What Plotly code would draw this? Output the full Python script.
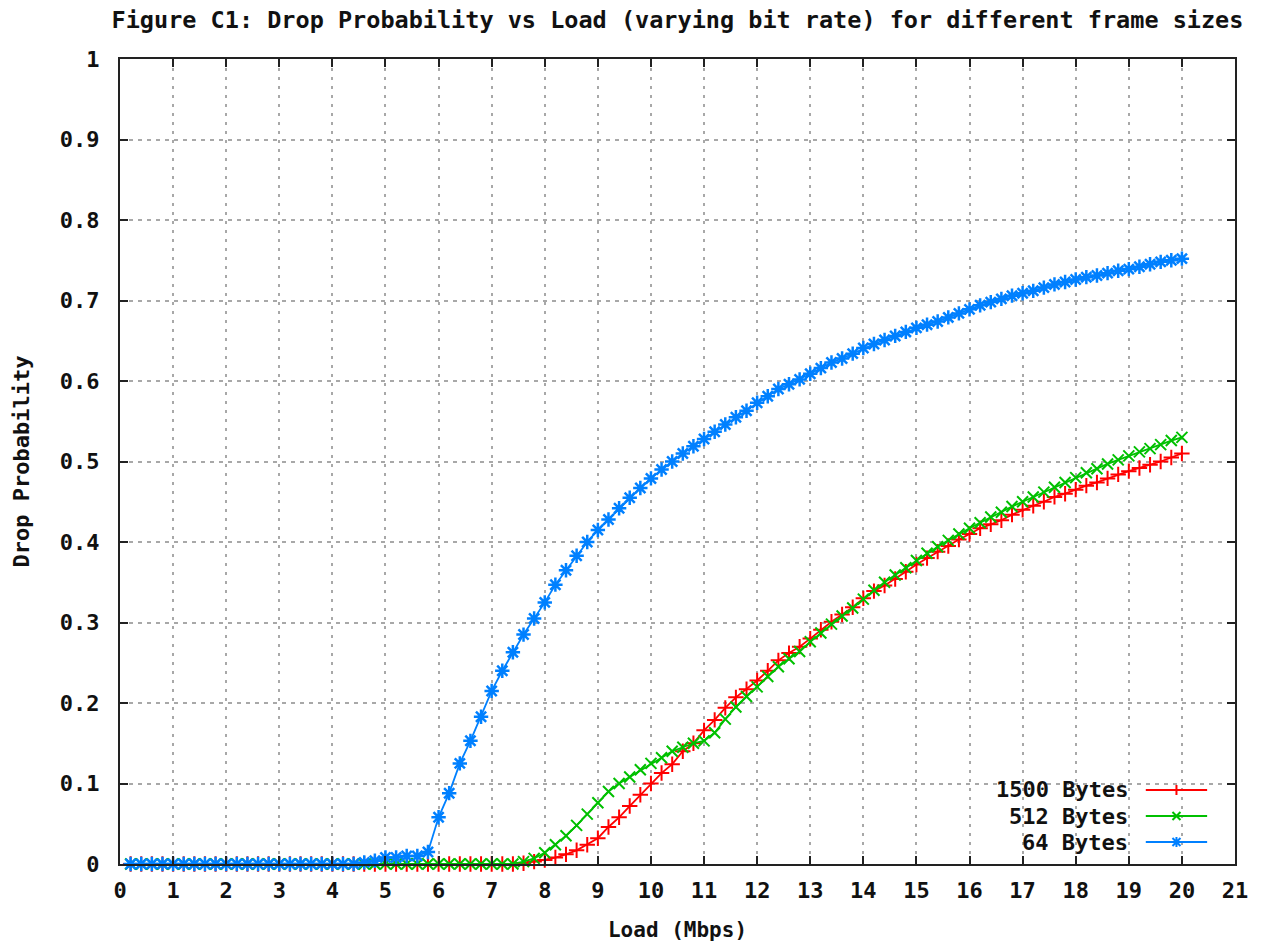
import plotly.graph_objects as go

# ---------------- data ----------------
load_mbps = [round(0.2 * i, 1) for i in range(1, 101)]  # 0.2 .. 20.0

drop_1500 = [0.0] * 37 + [
    0.001, 0.003,
    0.005, 0.008, 0.012, 0.017, 0.024, 0.032, 0.046, 0.058, 0.072, 0.086,
    0.100, 0.113, 0.124, 0.140, 0.150, 0.166, 0.179, 0.194, 0.207, 0.217,
    0.228, 0.240, 0.253, 0.262, 0.270, 0.280, 0.291, 0.301, 0.310, 0.319,
    0.330, 0.339, 0.346, 0.354, 0.363, 0.372, 0.380, 0.388, 0.395, 0.403,
    0.410, 0.417, 0.422, 0.427, 0.434, 0.440, 0.445, 0.450, 0.456, 0.460,
    0.465, 0.470, 0.474, 0.479, 0.484, 0.488, 0.492, 0.496, 0.500, 0.505,
    0.510,
]

drop_512 = [0.0] * 37 + [
    0.003, 0.007,
    0.014, 0.024, 0.035, 0.048, 0.062, 0.076, 0.090, 0.100, 0.108, 0.117,
    0.125, 0.132, 0.140, 0.145, 0.150, 0.153, 0.163, 0.180, 0.195, 0.208,
    0.220, 0.233, 0.245, 0.255, 0.264, 0.276, 0.287, 0.298, 0.308, 0.318,
    0.329, 0.340, 0.350, 0.359, 0.368, 0.377, 0.386, 0.394, 0.402, 0.410,
    0.417, 0.424, 0.431, 0.437, 0.444, 0.450, 0.456, 0.462, 0.468, 0.474,
    0.480, 0.486, 0.491, 0.497, 0.502, 0.507, 0.512, 0.516, 0.521, 0.526,
    0.530,
]

drop_64 = [0.0] * 22 + [
    0.002, 0.004, 0.008, 0.008, 0.010, 0.010, 0.015,
    0.058, 0.088, 0.125, 0.153, 0.183, 0.215, 0.240, 0.263, 0.285, 0.305,
    0.325, 0.347, 0.365, 0.383, 0.400, 0.415, 0.428, 0.442, 0.455, 0.467,
    0.479, 0.490, 0.500, 0.510, 0.519, 0.528, 0.537, 0.546, 0.555, 0.563,
    0.573, 0.581, 0.590, 0.596, 0.602, 0.609, 0.616, 0.623, 0.628, 0.634,
    0.641, 0.646, 0.651, 0.656, 0.661, 0.666, 0.670, 0.674, 0.679, 0.684,
    0.689, 0.694, 0.698, 0.702, 0.706, 0.709, 0.712, 0.716, 0.720, 0.723,
    0.726, 0.729, 0.731, 0.734, 0.737, 0.739, 0.742, 0.745, 0.748, 0.750,
    0.752,
]

series_names = ["1500 Bytes", "512 Bytes", "64 Bytes"]
series_values = [drop_1500, drop_512, drop_64]
series_colors = ["#ff0000", "#00c000", "#0080ff"]
series_symbols = ["cross-thin", "x-thin", "asterisk"]
series_msize = [11, 11, 12]
series_mwidth = [2, 2, 2.5]

x_ticks = list(range(0, 22))
y_ticks = [0, 0.1, 0.2, 0.3, 0.4, 0.5, 0.6, 0.7, 0.8, 0.9, 1]
y_tick_text = ["0", "0.1", "0.2", "0.3", "0.4", "0.5", "0.6", "0.7", "0.8", "0.9", "1"]

TITLE = "Figure C1: Drop Probability vs Load (varying bit rate) for different frame sizes"
X_TITLE = "Load (Mbps)"
Y_TITLE = "Drop Probability"

# ---------------- figure ----------------
FONT = "DejaVu Sans Mono"
fig = go.Figure()

for name, vals, col, sym, ms, mw in zip(series_names, series_values, series_colors,
                                        series_symbols, series_msize, series_mwidth):
    fig.add_trace(go.Scatter(
        x=load_mbps, y=vals, name=name, mode="lines+markers",
        line=dict(color=col, width=1.8),
        marker=dict(symbol=sym, size=ms, color=col, line=dict(color=col, width=mw)),
        cliponaxis=False, showlegend=False,
    ))

# manual gnuplot-style key: text on the left, sample on the right
key_rows_y = [0.0920, 0.0596, 0.0273]
annotations = []
shapes = []
for name, col, sym, ky in zip(series_names, series_colors, series_symbols, key_rows_y):
    annotations.append(dict(
        text=name, xref="paper", yref="paper", x=0.9058, y=ky,
        xanchor="right", yanchor="middle", showarrow=False,
        font=dict(family=FONT, size=22, color="#111", weight="bold"),
    ))
    shapes.append(dict(type="line", xref="paper", yref="paper",
                       x0=0.920, x1=0.975, y0=ky, y1=ky,
                       line=dict(color=col, width=2)))
    paths = []
    if sym in ("cross-thin", "asterisk"):
        paths.append("M0,-5 L0,5 M-5,0 L5,0" if sym == "cross-thin" else "M0,-5 L0,5")
    if sym in ("x-thin", "asterisk"):
        paths.append("M-4,-4 L4,4 M-4,4 L4,-4")
    shapes.append(dict(type="path", xref="paper", yref="paper",
                       xsizemode="pixel", ysizemode="pixel",
                       xanchor=0.9475, yanchor=ky, path=" ".join(paths),
                       line=dict(color=col, width=2)))

fig.update_layout(
    width=1266, height=942,
    margin=dict(l=120, r=31, t=59, b=78),
    paper_bgcolor="white", plot_bgcolor="white",
    font=dict(family=FONT, size=22, color="#111", weight="bold"),
    title=dict(text=TITLE, x=0.5, xref="paper", xanchor="center",
               y=1 - 20 / 942, yref="container", yanchor="middle",
               font=dict(family=FONT, size=23.5, color="#111", weight="bold")),
    annotations=annotations,
    shapes=shapes,
    xaxis=dict(
        range=[0, 21], tickmode="array", tickvals=x_ticks, automargin=False,
        ticks="inside", ticklen=8, tickwidth=2, tickcolor="#222",
        showline=True, linecolor="#222", linewidth=2, mirror="allticks",
        showgrid=True, gridcolor="#a8a8a8", gridwidth=2, griddash="3px,6px",
        zeroline=False, ticklabelstandoff=6,
        title=dict(text=X_TITLE, standoff=20,
                   font=dict(family=FONT, size=21, weight="bold")),
    ),
    yaxis=dict(
        range=[0, 1], tickmode="array", tickvals=y_ticks, ticktext=y_tick_text,
        automargin=False,
        ticks="inside", ticklen=8, tickwidth=2, tickcolor="#222",
        showline=True, linecolor="#222", linewidth=2, mirror="allticks",
        showgrid=True, gridcolor="#a8a8a8", gridwidth=1.5, griddash="4px,5px",
        zeroline=False, ticklabelstandoff=14,
        title=dict(text=Y_TITLE, standoff=24,
                   font=dict(family=FONT, size=22, weight="bold")),
    ),
)

fig.write_html("out.html")
